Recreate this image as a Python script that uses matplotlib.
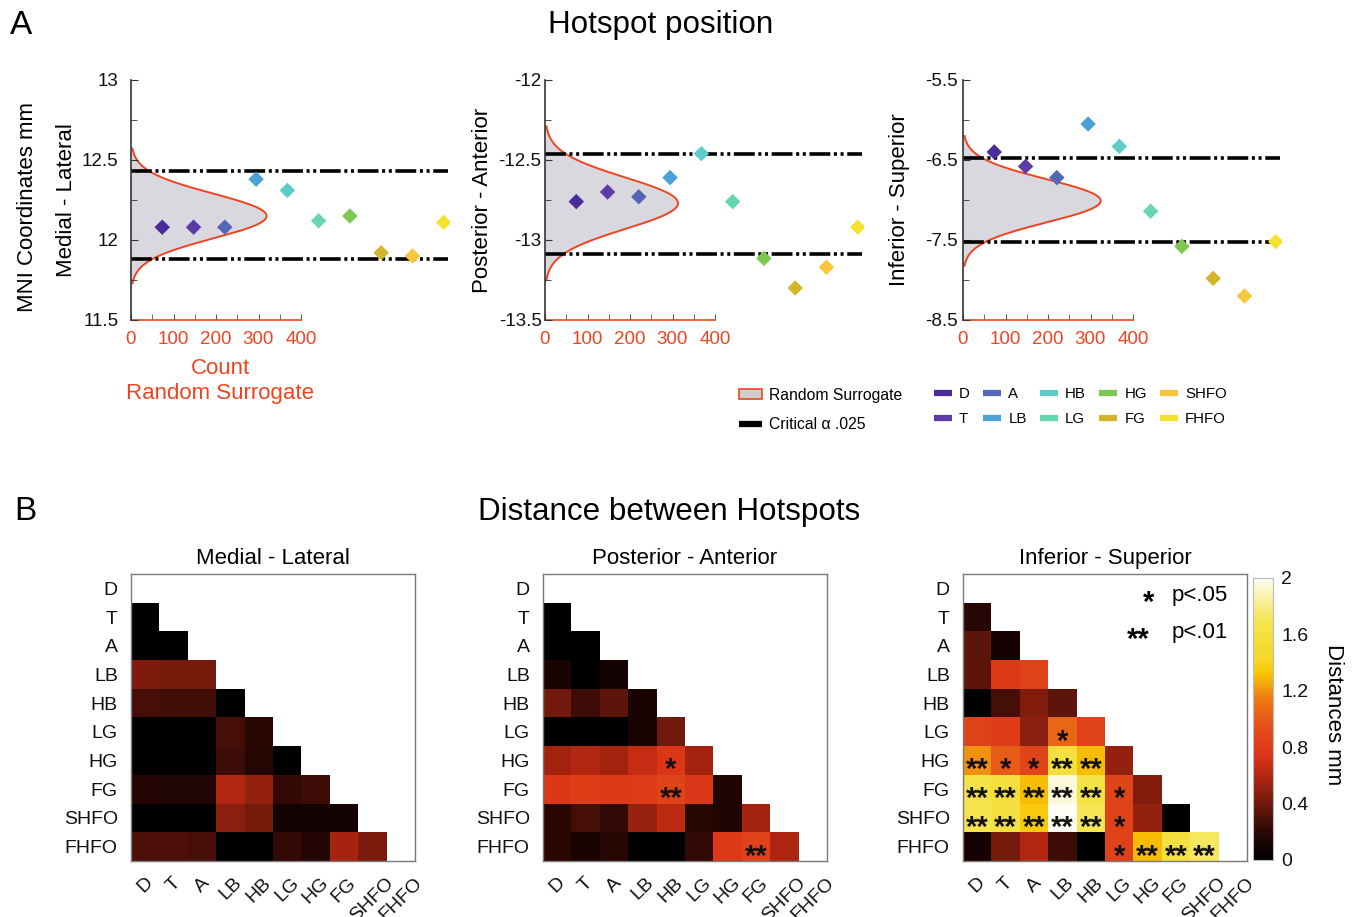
import numpy as np
import matplotlib
matplotlib.use('Agg')
import matplotlib.pyplot as plt
from matplotlib.colors import LinearSegmentedColormap
from matplotlib.lines import Line2D
from matplotlib.patches import Patch
from matplotlib.ticker import FixedLocator

plt.rcParams['font.family'] = ['Liberation Sans', 'DejaVu Sans']
plt.rcParams['axes.unicode_minus'] = False
plt.rcParams['lines.scale_dashes'] = False

# ---------------- data ----------------
bands = ['D', 'T', 'A', 'LB', 'HB', 'LG', 'HG', 'FG', 'SHFO', 'FHFO']
band_colors = ['#4b2a9c', '#5a3ca8', '#5566b6', '#4ba0d6', '#5ccdc8',
               '#66d5b2', '#7cc850', '#d4b42a', '#f8c63a', '#f4e22e']

# hotspot positions (MNI mm)
ml_pos = [12.08, 12.08, 12.08, 12.38, 12.31, 12.12, 12.15, 11.92, 11.90, 12.11]
pa_pos = [-12.76, -12.70, -12.73, -12.61, -12.46, -12.76, -13.115, -13.30, -13.17, -12.92]
is_pos = [-6.40, -6.58, -6.72, -6.05, -6.33, -7.14, -7.58, -7.98, -8.20, -7.52]

# critical alpha .025 thresholds (lower, upper)
ml_crit = [11.88, 12.43]
pa_crit = [-13.09, -12.46]
is_crit = [-7.52, -6.48]

# random surrogate fitted normal: mean, sd, peak count
ml_surr = [12.15, 0.14, 319]
pa_surr = [-12.77, 0.16, 313]
is_surr = [-7.01, 0.27, 324]

count_ticks = [0, 100, 200, 300, 400]

# distances between hotspots (lower triangle, rows T..FHFO)
ml_rows = [
    [0.0],
    [0.0, 0.0],
    [0.44, 0.42, 0.42],
    [0.28, 0.27, 0.27, 0.0],
    [0.0, 0.0, 0.0, 0.28, 0.20],
    [0.0, 0.0, 0.0, 0.25, 0.18, 0.0],
    [0.17, 0.16, 0.16, 0.60, 0.50, 0.22, 0.25],
    [0.0, 0.0, 0.0, 0.48, 0.42, 0.08, 0.10, 0.10],
    [0.30, 0.30, 0.28, 0.0, 0.0, 0.22, 0.17, 0.56, 0.43],
]
pa_rows = [
    [0.0],
    [0.0, 0.0],
    [0.12, 0.0, 0.10],
    [0.40, 0.25, 0.35, 0.12],
    [0.0, 0.0, 0.0, 0.12, 0.40],
    [0.55, 0.60, 0.55, 0.66, 0.76, 0.55],
    [0.76, 0.82, 0.78, 0.80, 0.86, 0.76, 0.15],
    [0.20, 0.28, 0.22, 0.52, 0.64, 0.18, 0.15, 0.55],
    [0.20, 0.12, 0.18, 0.0, 0.0, 0.22, 0.78, 0.86, 0.58],
]
is_rows = [
    [0.18],
    [0.35, 0.10],
    [0.35, 0.78, 0.85],
    [0.0, 0.28, 0.45, 0.35],
    [0.85, 0.80, 0.48, 1.05, 0.85],
    [1.20, 1.00, 0.88, 1.60, 1.30, 0.50],
    [1.65, 1.60, 1.30, 1.95, 1.65, 0.88, 0.45],
    [1.68, 1.62, 1.35, 2.00, 1.70, 0.85, 0.50, 0.0],
    [0.10, 0.42, 0.60, 0.25, 0.0, 0.85, 1.30, 1.62, 1.72],
]
# significance marks (row, column, mark)
pa_sig = [('HG', 'HB', '*'), ('FG', 'HB', '**'), ('FHFO', 'FG', '**')]
is_sig = [('LG', 'LB', '*'),
          ('HG', 'D', '**'), ('HG', 'T', '*'), ('HG', 'A', '*'), ('HG', 'LB', '**'), ('HG', 'HB', '**'),
          ('FG', 'D', '**'), ('FG', 'T', '**'), ('FG', 'A', '**'), ('FG', 'LB', '**'), ('FG', 'HB', '**'), ('FG', 'LG', '*'),
          ('SHFO', 'D', '**'), ('SHFO', 'T', '**'), ('SHFO', 'A', '**'), ('SHFO', 'LB', '**'), ('SHFO', 'HB', '**'), ('SHFO', 'LG', '*'),
          ('FHFO', 'LG', '*'), ('FHFO', 'HG', '**'), ('FHFO', 'FG', '**'), ('FHFO', 'SHFO', '**')]

cbar_ticks = [0, 0.4, 0.8, 1.2, 1.6, 2]

# ---------------- style ----------------
RED = '#ef4420'
GREY_FILL = '#dad8df'
W, H = 1354, 917

cmap = LinearSegmentedColormap.from_list('dist', [
    (0.00, '#000000'), (0.10, '#2c0805'), (0.19, '#6a180c'), (0.28, '#a82410'),
    (0.37, '#dc3418'), (0.46, '#e24a1a'), (0.575, '#ee7c14'), (0.665, '#f8c804'),
    (0.70, '#f6d424'), (0.84, '#f5e44a'), (0.93, '#f8f0a4'), (1.00, '#fffdf6')])
cmap.set_bad('white')

fig = plt.figure(figsize=(W / 100, H / 100), dpi=100)


def frect(x0, y0, x1, y1):
    return [x0 / W, 1 - y1 / H, (x1 - x0) / W, (y1 - y0) / H]


TICK_FS = 13.5
AXW = 319


def top_panel(x0, pos, crit, surr, ylim, majors, minors, ylabel, tpad, label_x):
    ax = fig.add_axes(frect(x0, 80, x0 + AXW, 320))
    axc = ax.twiny()
    ax.set_zorder(axc.get_zorder() + 1)
    ax.patch.set_visible(False)
    xmax_idx = 10.2
    ax.set_xlim(0, xmax_idx)
    axc.set_xlim(0, 400 * AXW / 170)
    ax.set_ylim(*ylim)
    mu, sd, peak = surr
    yy = np.linspace(mu - 3 * sd, mu + 3 * sd, 400)
    cnt = peak * np.exp(-0.5 * ((yy - mu) / sd) ** 2)
    axc.fill_betweenx(yy, 0, cnt, color=GREY_FILL, lw=0)
    axc.plot(cnt, yy, color=RED, lw=1.4)
    for c in crit:
        ax.axhline(c, xmin=0, xmax=10.15 / xmax_idx, color='black', lw=2.6,
                   dashes=(15, 2.6, 2.2, 2.6, 2.2, 2.6), zorder=2)
    ax.scatter(np.arange(1, len(pos) + 1), pos, marker='D', s=62,
               c=band_colors, linewidths=0, zorder=4)
    # axes styling
    for s in ['top', 'right', 'bottom']:
        ax.spines[s].set_visible(False)
    ax.spines['left'].set_color('#333333')
    ax.spines['left'].set_linewidth(1.2)
    ax.set_xticks([])
    ax.yaxis.set_major_locator(FixedLocator(majors))
    ax.yaxis.set_minor_locator(FixedLocator(minors))
    ax.set_yticklabels([('%g' % m) for m in majors])
    ax.tick_params(axis='y', which='both', direction='in', color='#333333',
                   labelsize=TICK_FS, pad=tpad, labelcolor='#111111')
    ax.tick_params(axis='y', which='major', length=5)
    ax.tick_params(axis='y', which='minor', length=4)
    ax.set_ylabel(ylabel, fontsize=16, va='center')
    ax.yaxis.set_label_coords((label_x - x0) / AXW, 0.5)

    for s in ['top', 'right', 'left']:
        axc.spines[s].set_visible(False)
    axc.spines['bottom'].set_visible(True)
    axc.spines['bottom'].set_color(RED)
    axc.spines['bottom'].set_linewidth(1.2)
    axc.spines['bottom'].set_bounds(0, 400)
    axc.xaxis.set_ticks_position('bottom')
    axc.xaxis.set_label_position('bottom')
    axc.set_xticks(count_ticks)
    axc.set_xticks([50, 150, 250, 350], minor=True)
    axc.tick_params(axis='x', which='both', direction='in', color='#555555',
                    length=4, labelsize=TICK_FS, labelcolor=RED, pad=8)
    return ax


top_panel(131, ml_pos, ml_crit, ml_surr, (11.5, 13), [11.5, 12, 12.5, 13],
          [11.75, 12.25, 12.75], 'Medial - Lateral', 9, 67)
top_panel(545, pa_pos, pa_crit, pa_surr, (-13.5, -12), [-13.5, -13, -12.5, -12],
          [-13.25, -12.75, -12.25], 'Posterior - Anterior', 2.5, 483)
top_panel(963, is_pos, is_crit, is_surr, (-8.5, -5.5), [-8.5, -7.5, -6.5, -5.5],
          [-8, -7, -6], 'Inferior - Superior', 3.5, 900)

fig.text(28 / W, 1 - 207 / H, 'MNI Coordinates mm', rotation=90, fontsize=16,
         ha='center', va='center')
fig.text(220 / W, 1 - 368 / H, 'Count', color=RED, fontsize=16, ha='center', va='center')
fig.text(220 / W, 1 - 393 / H, 'Random Surrogate', color=RED, fontsize=16, ha='center', va='center')

# panel letters and titles
fig.text(21 / W, 1 - 25 / H, 'A', fontsize=24, ha='center', va='center')
fig.text(25 / W, 1 - 512 / H, 'B', fontsize=24, ha='center', va='center')
fig.text(661 / W, 1 - 25 / H, 'Hotspot position', fontsize=22.6, ha='center', va='center')
fig.text(669 / W, 1 - 512 / H, 'Distance between Hotspots', fontsize=22.6, ha='center', va='center')

# legends
leg1_handles = [Patch(facecolor='#cfcfcf', edgecolor=RED, lw=1.2),
                Line2D([], [], color='black', lw=4.5, solid_capstyle='butt')]
fig.legend(leg1_handles, ['Random Surrogate', 'Critical \u03b1 .025'],
           loc='center left', bbox_to_anchor=(731 / W, 1 - 410 / H),
           frameon=False, fontsize=11.3, borderpad=0, handlelength=1.5,
           handleheight=0.55, handletextpad=0.45, labelspacing=0.95)
leg2_handles = [Line2D([], [], color=c, lw=4.5, solid_capstyle='butt') for c in band_colors]
fig.legend(leg2_handles, bands, loc='center left', ncol=5,
           bbox_to_anchor=(926 / W, 1 - 406.5 / H), frameon=False, fontsize=10.8,
           borderpad=0, handlelength=1.2, handletextpad=0.5, labelspacing=0.72,
           columnspacing=0.86)


# heatmaps
def heat_panel(x0, rows, sig, title):
    ax = fig.add_axes(frect(x0, 574, x0 + 284, 861))
    n = len(bands)
    M = np.full((n, n), np.nan)
    for i, row in enumerate(rows, start=1):
        M[i, :i] = row
    im = ax.imshow(np.ma.masked_invalid(M), cmap=cmap, vmin=0, vmax=2,
                   aspect='auto', interpolation='nearest')
    ax.set_xticks(range(n))
    ax.set_yticks(range(n))
    ax.set_xticklabels(bands, rotation=45, ha='center', va='top')
    ax.set_yticklabels(bands)
    ax.tick_params(length=0, labelsize=14, pad=9.5, labelcolor='#111111')
    for s in ax.spines.values():
        s.set_color('#7a7a7a')
        s.set_linewidth(1.0)
    ax.set_title(title, fontsize=16, pad=7)
    for r, c, mark in sig:
        ax.text(bands.index(c), bands.index(r) + 0.62, mark, ha='center',
                va='baseline', fontsize=21, fontweight='bold', color='#111111')
    return ax, im


heat_panel(131, ml_rows, [], 'Medial - Lateral')
heat_panel(543, pa_rows, pa_sig, 'Posterior - Anterior')
ax3, im3 = heat_panel(963, is_rows, is_sig, 'Inferior - Superior')

ax3.text(0.655, 0.872, '*', transform=ax3.transAxes, fontsize=21, fontweight='bold',
         ha='center', va='baseline')
ax3.text(0.735, 0.925, 'p<.05', transform=ax3.transAxes, fontsize=16, ha='left', va='center')
ax3.text(0.617, 0.742, '**', transform=ax3.transAxes, fontsize=21, fontweight='bold',
         ha='center', va='baseline')
ax3.text(0.735, 0.795, 'p<.01', transform=ax3.transAxes, fontsize=16, ha='left', va='center')

cax = fig.add_axes(frect(1253, 578, 1273, 860))
cb = fig.colorbar(im3, cax=cax, ticks=cbar_ticks)
cb.ax.set_yticklabels(['%g' % t for t in cbar_ticks])
cb.ax.tick_params(length=0, labelsize=14, pad=6, labelcolor='#111111')
cb.outline.set_edgecolor('#bbbbbb')
cb.outline.set_linewidth(0.8)
fig.text(1333 / W, 1 - 715 / H, 'Distances mm', rotation=270, fontsize=16,
         ha='center', va='center')

fig.savefig('out.png', dpi=100)
